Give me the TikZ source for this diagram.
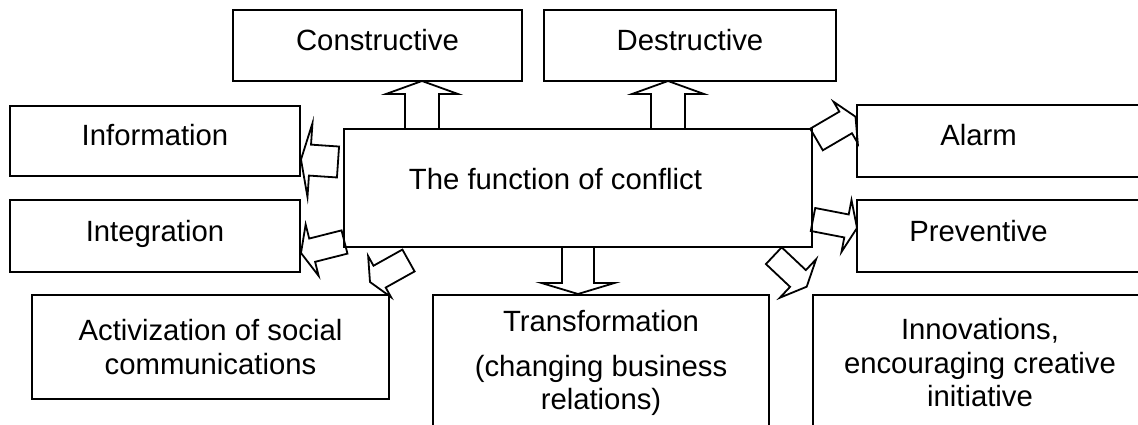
\documentclass[tikz,border=0pt]{standalone}
\usepackage{fontspec}
\setmainfont{Liberation Sans}
\usetikzlibrary{calc}

\tikzset{
  box/.style={draw, line width=2pt, inner sep=0pt, text height=21pt, text depth=11pt},
  mbox/.style={draw, line width=2pt, inner sep=0pt, align=center},
  barrow/.style={draw, line width=1.8pt}
}

% block arrow: tail, tip, half shaft, half head, head length
\newcommand{\blockarrow}[5]{%
  \coordinate (ba-base) at ($(#2)!#5!(#1)$);
  \path[barrow] ($(#1)!#3!90:(#2)$) -- ($(ba-base)!#3!90:(#2)$) -- ($(ba-base)!#4!90:(#2)$) -- (#2)
    -- ($(ba-base)!#4!-90:(#2)$) -- ($(ba-base)!#3!-90:(#2)$) -- ($(#1)!#3!-90:(#2)$) -- cycle;
}

\begin{document}
\begin{tikzpicture}[x=1pt, y=-1pt, font=\fontsize{29.3}{33.5}\selectfont]
    \useasboundingbox (0,0) rectangle (1138,425);
    \clip (0,0) rectangle (1138,425);

    \node[box, minimum width=289pt, minimum height=71pt] (cons) at (377.5,45.5) {Constructive};
    \node[box, minimum width=292pt, minimum height=71pt] (dest) at (690,45.5) {Destructive};
    \node[box, minimum width=290pt, minimum height=70pt] (info) at (155,141) {Information};
    \node[box, minimum width=290pt, minimum height=72pt] (integ) at (155,236) {Integration};
    \node[box, minimum width=468pt, minimum height=118pt, text depth=18pt] (fn) at (578,188) {The function of conflict\hspace*{45pt}};
    \node[box, minimum width=303pt, minimum height=72pt] (alarm) at (1008.5,141) {Alarm\hspace*{60pt}};
    \node[box, minimum width=303pt, minimum height=72pt] (prev) at (1008.5,236) {Preventive\hspace*{60pt}};
    \node[mbox, minimum width=357pt, minimum height=104pt] (activ) at (210.5,347) {Activization of social\\communications};
    \node[mbox, minimum width=336pt, minimum height=136pt] (trans) at (601,363) {Transformation\\[11.5pt](changing business\\relations)};
    \node[mbox, minimum width=334pt, minimum height=136pt] (innov) at (980,363) {Innovations,\\encouraging creative\\initiative};

    \coordinate (cons-a) at (422,129);
    \coordinate (cons-b) at (422,81);
    \coordinate (dest-a) at (668,129);
    \coordinate (dest-b) at (668,81);
    \coordinate (info-a) at (338,162);
    \coordinate (info-b) at (301,159.5);
    \coordinate (integ-a) at (344.5,242);
    \coordinate (integ-b) at (301,253);
    \coordinate (activ-a) at (408.5,260.5);
    \coordinate (activ-b) at (370,282);
    \coordinate (trans-a) at (578,247);
    \coordinate (trans-b) at (578,294);
    \coordinate (innov-a) at (773.8,255.7);
    \coordinate (innov-b) at (806.7,286.7);
    \coordinate (prev-a) at (813,219.5);
    \coordinate (prev-b) at (857,228);
    \coordinate (alarm-a) at (816.5,139.5);
    \coordinate (alarm-b) at (855.5,116.7);

    \blockarrow{cons-a}{cons-b}{17pt}{36pt}{13pt}
    \blockarrow{dest-a}{dest-b}{17pt}{36pt}{13pt}
    \blockarrow{info-a}{info-b}{15.5pt}{37pt}{9pt}
    \blockarrow{integ-a}{integ-b}{12pt}{26.5pt}{11.5pt}
    \blockarrow{activ-a}{activ-b}{12.5pt}{23.5pt}{11pt}
    \blockarrow{trans-a}{trans-b}{16pt}{36.5pt}{11pt}
    \blockarrow{innov-a}{innov-b}{11.5pt}{26.5pt}{12pt}
    \blockarrow{prev-a}{prev-b}{11.7pt}{26.4pt}{10.7pt}
    \blockarrow{alarm-a}{alarm-b}{12.5pt}{24pt}{11.4pt}
\end{tikzpicture}
\end{document}
